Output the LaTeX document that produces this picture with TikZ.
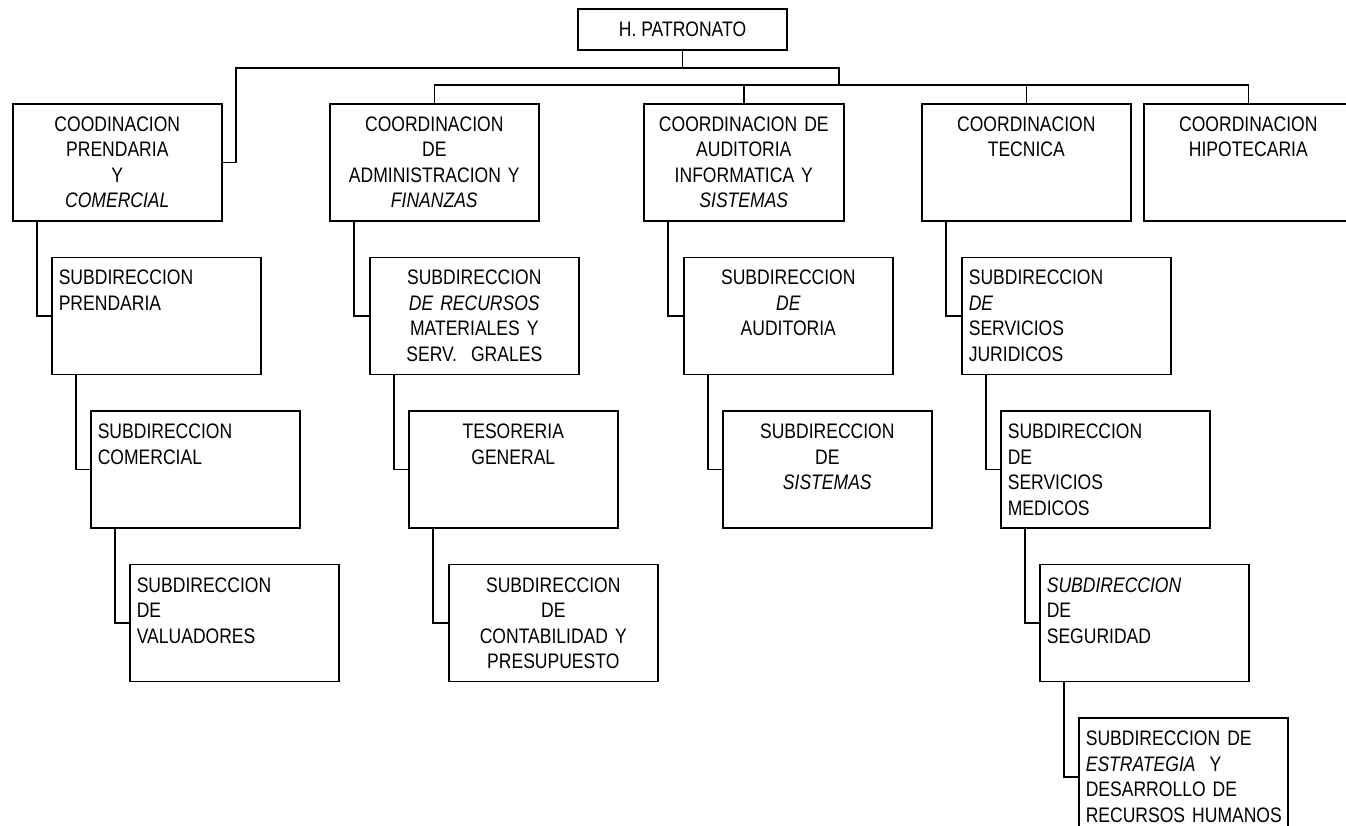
\documentclass[tikz,border=0pt]{standalone}
\usepackage{fontspec}
\setmainfont{Liberation Sans}[FakeStretch=0.835]
\usetikzlibrary{positioning}
\tikzset{
    base/.style={font=\fontsize{21pt}{25.5pt}\selectfont},
    head/.style={base, rectangle, draw, line width=1.6pt, inner sep=0pt,
                 minimum width=209pt, minimum height=41pt},
    office/.style={base, rectangle, draw, line width=1.6pt, align=center,
                   inner xsep=7pt, inner ysep=0pt, text width=195pt,
                   text height=27.5pt, text depth=89.5pt},
    officeleft/.style={office, align=left},
    link/.style={line width=1.6pt}
}

\begin{document}
\begin{tikzpicture}[x=1pt, y=-1pt]
  \useasboundingbox (0,0) rectangle (1346,825);

  % Board
  \node[head] (patronato) at (682.5,29.5) {H. PATRONATO};

  % Coordinations
  \node[office, anchor=north west] (prendaria) at (12,103)
    {COODINACION\\PRENDARIA\\Y\\{\itshape COMERCIAL}};
  \node[office, anchor=north west] (admin) at (329,103)
    {COORDINACION\\DE\\ADMINISTRACION Y\\{\itshape FINANZAS}};
  \node[office, anchor=north west, text width=186pt] (auditoria) at (643,103)
    {COORDINACION DE\\AUDITORIA\\INFORMATICA Y\\{\itshape SISTEMAS}};
  \node[office, anchor=north west] (tecnica) at (921,103) {COORDINACION\\TECNICA};
  \node[office, anchor=north west] (hipotecaria) at (1143,103) {COORDINACION\\HIPOTECARIA};

  % Bus lines
  \coordinate (busL) at (236,68);
  \coordinate (busR) at (839,68);
  \coordinate (busB) at (839,85);
  \draw[link] (patronato.south) -- (patronato.south |- busL);
  \draw[link] (prendaria.east) -| (busL) -- (busR) -- (busB);
  \draw[link] (admin.north) |- (busB) -| (hipotecaria.north);
  \draw[link] (auditoria.north) -- (auditoria.north |- busB);
  \draw[link] (tecnica.north) -- (tecnica.north |- busB);

  % Prendaria branch
  \node[officeleft, below right=35pt and 39pt of prendaria.south west] (subprendaria)
    {SUBDIRECCION\\PRENDARIA};
  \node[officeleft, below right=35pt and 39pt of subprendaria.south west] (comercial)
    {SUBDIRECCION\\COMERCIAL};
  \node[officeleft, below right=35pt and 39pt of comercial.south west] (valuadores)
    {SUBDIRECCION\\DE\\VALUADORES};
  \draw[link] ([xshift=25pt]prendaria.south west) |- (subprendaria.west);
  \draw[link] ([xshift=25pt]subprendaria.south west) |- (comercial.west);
  \draw[link] ([xshift=25pt]comercial.south west) |- (valuadores.west);

  % Administracion branch
  \node[office, below right=35pt and 40pt of admin.south west] (recursos)
    {SUBDIRECCION\\{\itshape DE RECURSOS}\\MATERIALES Y\\SERV.\ \ GRALES};
  \node[office, below right=35pt and 39pt of recursos.south west] (tesoreria)
    {TESORERIA\\GENERAL};
  \node[office, below right=35pt and 40pt of tesoreria.south west] (contabilidad)
    {SUBDIRECCION\\DE\\CONTABILIDAD Y\\PRESUPUESTO};
  \draw[link] ([xshift=25pt]admin.south west) |- (recursos.west);
  \draw[link] ([xshift=25pt]recursos.south west) |- (tesoreria.west);
  \draw[link] ([xshift=25pt]tesoreria.south west) |- (contabilidad.west);

  % Auditoria branch
  \node[office, below right=35pt and 40pt of auditoria.south west] (subauditoria)
    {SUBDIRECCION\\{\itshape DE}\\AUDITORIA};
  \node[office, below right=35pt and 39pt of subauditoria.south west] (sistemas)
    {SUBDIRECCION\\DE\\{\itshape SISTEMAS}};
  \draw[link] ([xshift=25pt]auditoria.south west) |- (subauditoria.west);
  \draw[link] ([xshift=25pt]subauditoria.south west) |- (sistemas.west);

  % Tecnica branch
  \node[officeleft, below right=35pt and 40pt of tecnica.south west] (juridicos)
    {SUBDIRECCION\\{\itshape DE}\\SERVICIOS\\JURIDICOS};
  \node[officeleft, below right=35pt and 39pt of juridicos.south west] (medicos)
    {SUBDIRECCION\\DE\\SERVICIOS\\MEDICOS};
  \node[officeleft, below right=35pt and 39pt of medicos.south west] (seguridad)
    {{\itshape SUBDIRECCION}\\DE\\SEGURIDAD};
  \node[officeleft, below right=35pt and 39pt of seguridad.south west] (rrhh)
    {SUBDIRECCION DE\\{\itshape ESTRATEGIA}\ \ Y\\DESARROLLO DE\\\mbox{RECURSOS HUMANOS}};
  \draw[link] ([xshift=25pt]tecnica.south west) |- (juridicos.west);
  \draw[link] ([xshift=25pt]juridicos.south west) |- (medicos.west);
  \draw[link] ([xshift=25pt]medicos.south west) |- (seguridad.west);
  \draw[link] ([xshift=25pt]seguridad.south west) |- (rrhh.west);
\end{tikzpicture}
\end{document}
